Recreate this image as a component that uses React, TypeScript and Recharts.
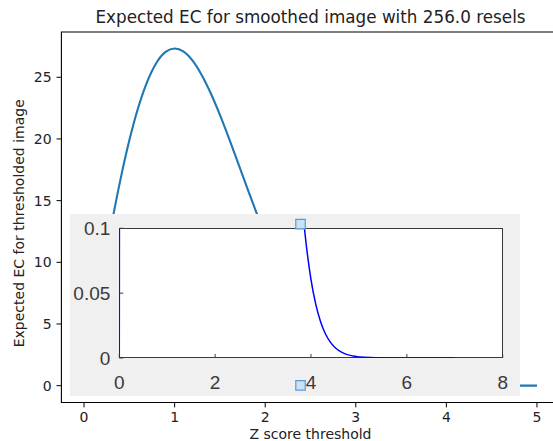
import React from 'react';
import { ComposedChart, Line, XAxis, YAxis, ReferenceArea, Scatter, ZAxis } from 'recharts';

// z score thresholds (0 .. 5 in steps of 0.1) and the expected EC
const zScores = [
  0, 0.1, 0.2, 0.3, 0.4, 0.5, 0.6, 0.7, 0.8, 0.9, 1, 1.1, 1.2, 1.3, 1.4, 1.5, 1.6,
  1.7, 1.8, 1.9, 2, 2.1, 2.2, 2.3, 2.4, 2.5, 2.6, 2.7, 2.8, 2.9, 3, 3.1, 3.2, 3.3,
  3.4, 3.5, 3.6, 3.7, 3.8, 3.9, 4, 4.1, 4.2, 4.3, 4.4, 4.5, 4.6, 4.7, 4.8, 4.9, 5,
];
const expectedEc = [
  0, 4.484, 8.835, 12.925, 16.641, 19.886, 22.586, 24.692, 26.18, 27.053, 27.334,
  27.071, 26.324, 25.167, 23.68, 21.946, 20.049, 18.062, 16.054, 14.083, 12.198,
  10.434, 8.816, 7.359, 6.071, 4.95, 3.99, 3.178, 2.503, 1.95, 1.502, 1.144, 0.862,
  0.642, 0.473, 0.345, 0.249, 0.178, 0.1254, 0.0876, 0.0605, 0.0413, 0.028, 0.0187,
  0.0124, 0.0081, 0.0053, 0.0034, 0.0022, 0.0014, 0.0008,
];
// the inset keeps going to z = 7
const insetTailZ = [5.5, 6, 6.5, 7];
const insetTailEc = [0.0001, 0, 0, 0];

const mainXTicks = [0, 1, 2, 3, 4, 5];
const mainYTicks = [0, 5, 10, 15, 20, 25];
const insetXTicks = [0, 2, 4, 6, 8];
const insetYTicks = [0, 0.05, 0.1];

// the two little selection handles sitting on top of the pasted inset
const handleZ = [2.39, 2.39];
const handleEc = [13.1, 0.03];

const mainData = zScores.map((z, i) => ({ z, ec: expectedEc[i] }));
const insetData = [...mainData, ...insetTailZ.map((z, i) => ({ z, ec: insetTailEc[i] }))];
const handleData = handleZ.map((z, i) => ({ z, ec: handleEc[i] }));

const MPL_FONT = '"DejaVu Sans", sans-serif';
const INSET_FONT = '"Liberation Sans", Arial, sans-serif';
const INK = '#222';
const INSET_INK = '#3a3a3a';

const X_DOMAIN: [number, number] = [-0.25, 5.25];
const Y_DOMAIN: [number, number] = [-1.365, 28.67];
const MAIN_W = 570;
const MAIN_H = 441;
const MAIN_MARGIN = { top: 32, right: 10.4, bottom: 0, left: 0 };

function InsetBottomTick({ x, y, payload }: any) {
  return (
    <g>
      <line x1={x} y1={y} x2={x} y2={y - 4} stroke={INSET_INK} />
      <text x={x} y={y + 24} textAnchor="middle" dominantBaseline="central"
        fontSize={19} fill={INSET_INK} fontFamily={INSET_FONT}>
        {payload.value}
      </text>
    </g>
  );
}

function InsetLeftTick({ x, y, payload }: any) {
  return (
    <g>
      <line x1={x} y1={y} x2={x + 4} y2={y} stroke={INSET_INK} />
      <text x={x - 9} y={y} textAnchor="end" dominantBaseline="central"
        fontSize={19} fill={INSET_INK} fontFamily={INSET_FONT}>
        {String(payload.value)}
      </text>
    </g>
  );
}

function InsetTopTick({ x, y }: any) {
  return <line x1={x} y1={y} x2={x} y2={y + 4} stroke={INSET_INK} />;
}

function InsetRightTick({ x, y }: any) {
  return <line x1={x} y1={y} x2={x - 4} y2={y} stroke={INSET_INK} />;
}

export default function App() {
  return (
    <div style={{ position: 'absolute', left: 0, top: 0, width: 553, height: 441, overflow: 'hidden', background: '#fff' }}>
      <div style={{
        position: 'absolute', left: 0, top: 7, width: 621, textAlign: 'center',
        fontFamily: MPL_FONT, fontSize: 16.8, lineHeight: '21px', color: INK,
      }}>
        Expected EC for smoothed image with 256.0 resels
      </div>

      <div style={{ position: 'absolute', left: 0, top: 0 }}>
        <ComposedChart width={MAIN_W} height={MAIN_H} data={mainData} margin={MAIN_MARGIN}>
          <ReferenceArea x1={X_DOMAIN[0]} x2={X_DOMAIN[1]} y1={Y_DOMAIN[0]} y2={Y_DOMAIN[1]}
            fill="none" stroke="#000" strokeWidth={1.1} />
          <XAxis dataKey="z" type="number" domain={X_DOMAIN} ticks={mainXTicks} allowDataOverflow
            height={38.5} axisLine={false} tickSize={4.9} tickMargin={4.9}
            tickLine={{ stroke: '#000' }}
            tick={{ fontSize: 14, fill: INK, fontFamily: MPL_FONT }}
            label={{ value: 'Z score threshold', position: 'insideBottom', offset: 2, fontSize: 14, fill: INK, fontFamily: MPL_FONT }} />
          <YAxis type="number" domain={Y_DOMAIN} ticks={mainYTicks} allowDataOverflow
            width={61.4} axisLine={false} tickSize={4.9} tickMargin={4.9}
            tickLine={{ stroke: '#000' }}
            tick={{ fontSize: 14, fill: INK, fontFamily: MPL_FONT }}
            label={{ value: 'Expected EC for thresholded image', angle: -90, position: 'center', dx: -12, dy: 6, fontSize: 14, fill: INK, fontFamily: MPL_FONT }} />
          <Line type="monotone" dataKey="ec" stroke="#1f77b4" strokeWidth={2.1} dot={false} isAnimationActive={false} />
        </ComposedChart>
      </div>

      {/* pasted inset figure: grey panel, white axes box, then the chart on top */}
      <div style={{ position: 'absolute', left: 70, top: 214, width: 450, height: 182, background: '#f0f0f0' }} />
      <div style={{
        position: 'absolute', left: 118.8, top: 227.8, width: 384.4, height: 130.7,
        boxSizing: 'border-box', border: `1px solid ${INSET_INK}`, background: '#fff',
      }} />
      <div style={{ position: 'absolute', left: 70, top: 214 }}>
        <ComposedChart width={450} height={182} data={insetData} margin={{ top: 14.3, right: 17.3, bottom: 0, left: 0 }}>
          <XAxis dataKey="z" type="number" domain={[0, 8]} ticks={insetXTicks} allowDataOverflow
            height={38} axisLine={false} tickLine={false} tickSize={0} tickMargin={0}
            tick={<InsetBottomTick />} />
          <XAxis xAxisId="top" orientation="top" type="number" domain={[0, 8]} ticks={insetXTicks}
            height={0} axisLine={false} tickLine={false} tickSize={0} tickMargin={0}
            tick={<InsetTopTick />} />
          <YAxis type="number" domain={[0, 0.1]} ticks={insetYTicks} allowDataOverflow
            width={49.3} axisLine={false} tickLine={false} tickSize={0} tickMargin={0}
            tick={<InsetLeftTick />} />
          <YAxis yAxisId="right" orientation="right" type="number" domain={[0, 0.1]} ticks={insetYTicks}
            width={0} axisLine={false} tickLine={false} tickSize={0} tickMargin={0}
            tick={<InsetRightTick />} />
          <Line type="monotone" dataKey="ec" stroke="#0000ff" strokeWidth={1.5} dot={false} isAnimationActive={false} />
        </ComposedChart>
      </div>

      {/* selection handles on top, in main-chart coordinates */}
      <div style={{ position: 'absolute', left: 0, top: 0 }}>
        <ComposedChart width={MAIN_W} height={MAIN_H} data={handleData}
          margin={{ top: 32, right: 10.4, bottom: 38.5, left: 61.4 }}>
          <XAxis dataKey="z" type="number" domain={X_DOMAIN} hide />
          <YAxis dataKey="ec" type="number" domain={Y_DOMAIN} hide />
          <ZAxis range={[90, 90]} />
          <Scatter data={handleData} dataKey="ec" shape="square" fill="#c9e2f6" stroke="#5a9bd3" strokeWidth={1.2} isAnimationActive={false} />
        </ComposedChart>
      </div>
    </div>
  );
}
